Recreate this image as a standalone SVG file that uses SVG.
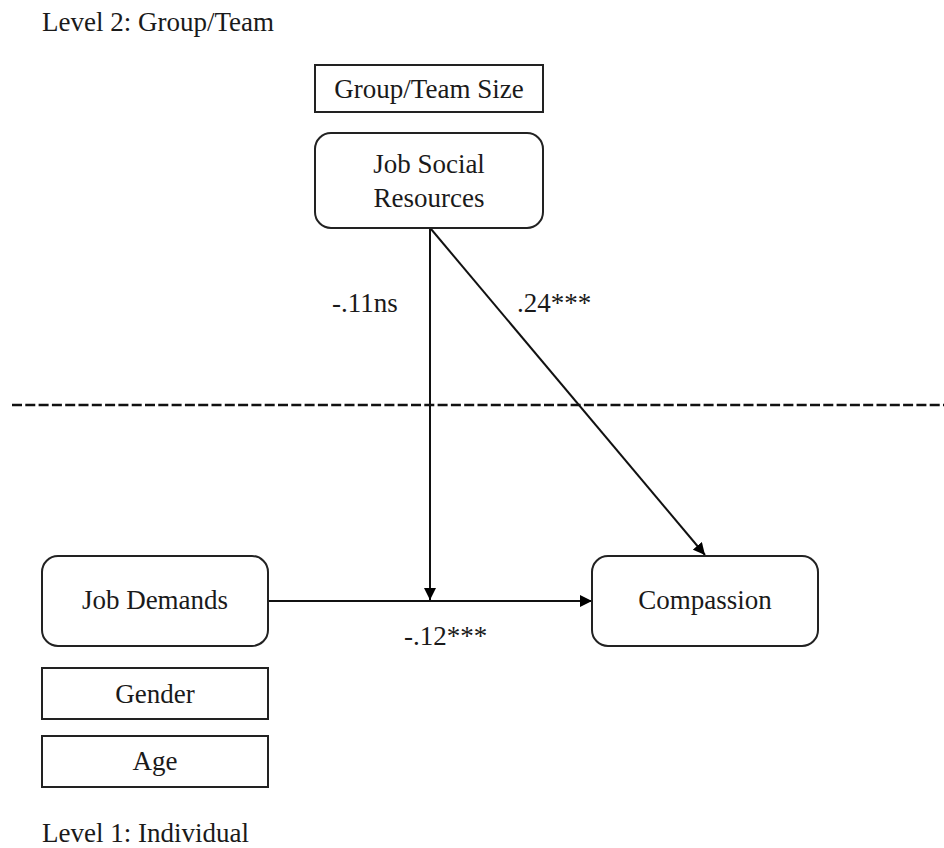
<svg xmlns="http://www.w3.org/2000/svg" width="944" height="848" viewBox="0 0 944 848">
<defs>
<style>
text{font-family:"Liberation Serif","Times New Roman",serif;font-size:27px;fill:#1a1a1a}
.c{text-anchor:middle}
.box{fill:#fff;stroke:#222;stroke-width:2}
.ln{stroke:#111;stroke-width:2;fill:none}
</style>
<marker id="ah" viewBox="0 0 10 10" refX="10" refY="5" markerWidth="12" markerHeight="12" markerUnits="userSpaceOnUse" orient="auto">
<path d="M0,0 L10,5 L0,10 Z" fill="#000"/>
</marker>
</defs>
<rect width="944" height="848" fill="#fff"/>
<text x="42" y="31">Level 2: Group/Team</text>
<text x="42" y="842">Level 1: Individual</text>
<line x1="12" y1="405" x2="944" y2="405" stroke="#111" stroke-width="2.7" stroke-dasharray="10,3.3"/>
<g id="connectors">
<line class="ln" x1="430" y1="229" x2="430" y2="600" marker-end="url(#ah)"/>
<line class="ln" x1="431" y1="229" x2="705" y2="555" marker-end="url(#ah)"/>
<line class="ln" x1="268" y1="601" x2="592" y2="601" marker-end="url(#ah)"/>
<text x="332" y="312">-.11ns</text>
<text x="517" y="312">.24***</text>
<text x="404" y="645">-.12***</text>
</g>
<g id="group-team-size">
<rect class="box" x="315" y="65" width="228" height="47"/>
<text class="c" x="429" y="98">Group/Team Size</text>
</g>
<g id="job-social-resources">
<rect class="box" x="315" y="133" width="228" height="95" rx="16"/>
<text class="c" x="429" y="173">Job Social</text>
<text class="c" x="429" y="207">Resources</text>
</g>
<g id="job-demands">
<rect class="box" x="42" y="556" width="226" height="90" rx="16"/>
<text class="c" x="155" y="609">Job Demands</text>
</g>
<g id="compassion">
<rect class="box" x="592" y="556" width="226" height="90" rx="16"/>
<text class="c" x="705" y="609">Compassion</text>
</g>
<g id="gender">
<rect class="box" x="42" y="668" width="226" height="51"/>
<text class="c" x="155" y="703">Gender</text>
</g>
<g id="age">
<rect class="box" x="42" y="736" width="226" height="51"/>
<text class="c" x="155" y="770">Age</text>
</g>
</svg>
